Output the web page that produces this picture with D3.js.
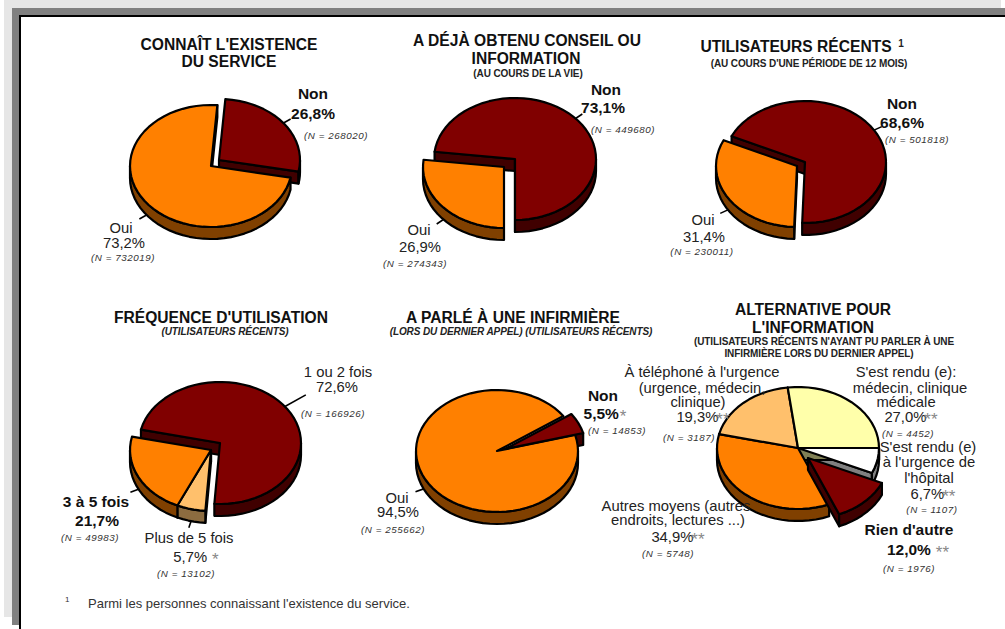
<!DOCTYPE html>
<html>
<head>
<meta charset="utf-8">
<script src="https://cdn.jsdelivr.net/npm/d3@7"></script>
<style>
  html, body { margin:0; padding:0; background:#fff; overflow:hidden; }
  svg { display:block; }
  text { font-family:"Liberation Sans", Arial, sans-serif; fill:#222; text-anchor:middle; }
  .title { font-size:15.6px; font-weight:bold; fill:#111; }
  .sub   { font-size:10px; font-weight:bold; fill:#222; letter-spacing:-.1px; }
  .lab   { font-size:14.8px; }
  .big   { font-size:15.5px; font-weight:bold; fill:#111; }
  .n     { font-size:9.8px; font-style:italic; letter-spacing:.55px; fill:#333; }
  .star  { fill:#888; font-weight:normal; font-size:17px; }
  .foot  { font-size:13px; fill:#333; text-anchor:start; }
</style>
</head>
<body>
<div id="graph"></div>
<script>
// Six fake-3D pies on a page with a drop shadow frame. Values are read off
// the picture, slice order is clockwise from each chart's start angle.

const W = 1005
const H = 629
const RX = 81    // pie radius, x
const RY = 61    // pie radius, y (squashed for the tilt)
const DEPTH = 12 // wall height

const ORANGE = '#ff8000', ORANGEW = '#804000'
const RED    = '#800000', REDW    = '#400000'
const PALE   = '#ffc06c', PALEW   = '#8c6c40'
const CREAM  = '#ffffaa', CREAMW  = '#808055'
const WHITE  = '#ffffff', WHITEW  = '#808080'

const titles1 = ["CONNAÎT L'EXISTENCE", 'DU SERVICE']
const names1  = [['Non'], ['Oui']]
const vals1   = [26.8, 73.2]
const ns1     = [268020, 732019]

const titles2 = ['A DÉJÀ OBTENU CONSEIL OU', 'INFORMATION']
const subs2   = ['(AU COURS DE LA VIE)']
const names2  = [['Oui'], ['Non']]
const vals2   = [26.9, 73.1]
const ns2     = [274343, 449680]

const titles3 = ['UTILISATEURS RÉCENTS']
const subs3   = ["(AU COURS D'UNE PÉRIODE DE 12 MOIS)"]
const names3  = [['Oui'], ['Non']]
const vals3   = [31.4, 68.6]
const ns3     = [230011, 501818]

const titles4 = ["FRÉQUENCE D'UTILISATION"]
const subs4   = ['(UTILISATEURS RÉCENTS)']
const names4  = [['Plus de 5 fois'], ['3 à 5 fois'], ['1 ou 2 fois']]
const vals4   = [5.7, 21.7, 72.6]
const ns4     = [13102, 49983, 166926]
const stars4  = ['*', '', '']

const titles5 = ['A PARLÉ À UNE INFIRMIÈRE']
const subs5   = ['(LORS DU DERNIER APPEL) (UTILISATEURS RÉCENTS)']
const names5  = [['Non'], ['Oui']]
const vals5   = [5.5, 94.5]
const ns5     = [14853, 255662]
const stars5  = ['*', '']

const titles6 = ['ALTERNATIVE POUR', "L'INFORMATION"]
const subs6   = ["(UTILISATEURS RÉCENTS N'AYANT PU PARLER À UNE", 'INFIRMIÈRE LORS DU DERNIER APPEL)']
const names6  = [["S'est rendu (e)", "à l'urgence de", "l'hôpital"],
                 ["Rien d'autre"],
                 ['Autres moyens (autres', 'endroits, lectures ...)'],
                 ["À téléphoné à l'urgence", '(urgence, médecin,', 'clinique)'],
                 ["S'est rendu (e):", 'médecin, clinique', 'médicale']]
const vals6   = [6.7, 12.0, 34.9, 19.3, 27.0]
const ns6     = [1107, 1976, 5748, 3187, 4452]
const stars6  = ['**', '**', '**', '**', '**']

const footNote = "Parmi les personnes connaissant l'existence du service."

const rad = d => d*Math.PI/180
const fmt = v => v.toFixed(1).replace('.', ',') + '%'

const svg = d3.select('#graph').append('svg').attr('width', W).attr('height', H)

// Page frame: light shadow, dark shadow, black rule, white sheet
const rect = (x, y, w, h, c) => svg.append('rect').attr('x', x).attr('y', y)
  .attr('width', w).attr('height', h).attr('fill', c)
rect(4, 0, 997, 617, '#e6e6e6')
rect(12, 8, 993, 617, '#808080')
rect(19, 15, 986, 614, '#000000')
rect(21, 17, 984, 612, '#ffffff')

const line = d3.line()
const inkd = sel => sel.attr('stroke', '#000').attr('stroke-width', 2.2)
  .attr('stroke-linejoin', 'round')

// Draw one pie. opts.slices holds per slice look, dx/dy = how far it is pulled out
function pie3d(vals, opts) {
  const arcs = d3.pie().sort(null)
    .startAngle(rad(opts.start)).endAngle(rad(opts.start + 360))(vals)
  const g = svg.append('g')

  const pt = (d, a, down=0) => {
    const s = opts.slices[d.index]
    return [opts.cx + s.dx + RX*Math.sin(a), opts.cy + s.dy - RY*Math.cos(a) + down]
  }
  const rim = (d, a0, a1, down=0) => {
    const n = Math.max(1, Math.ceil((a1 - a0)/rad(5)))
    return d3.range(n + 1).map(i => pt(d, a0 + (a1 - a0)*i/n, down))
  }
  const apex = (d, down=0) => {
    const s = opts.slices[d.index]
    return [opts.cx + s.dx, opts.cy + s.dy + down]
  }
  const drawTop = d => {
    const pts = [apex(d)].concat(rim(d, d.startAngle, d.endAngle))
    g.append('path').attr('d', line(pts) + 'Z').attr('fill', opts.slices[d.index].top).call(inkd)
  }

  // back pieces first: pulled-up ones behind, pulled-down ones in front
  const groups = d3.groups(arcs, d => opts.slices[d.index].dy).sort((a, b) => a[0] - b[0])
  const late = []
  for (const [, ds] of groups) {
    for (const d of ds) {
      const s = opts.slices[d.index]
      if (s.noFace) continue
      // the cut faces, only if they look downwards
      for (const [a, show] of [[d.startAngle, Math.sin(d.startAngle) < 0],
                               [d.endAngle,   Math.sin(d.endAngle)   > 0]]) {
        if (!show) continue
        const face = [apex(d), pt(d, a), pt(d, a, DEPTH), apex(d, DEPTH)]
        g.append('path').attr('d', line(face) + 'Z').attr('fill', s.wall).call(inkd)
      }
    }
    for (const d of ds) {
      const s = opts.slices[d.index]
      // outer wall is only on the front half of the ellipse
      for (let k = -1; k < 3; k++) {
        const a0 = Math.max(d.startAngle, rad(90 + 360*k))
        const a1 = Math.min(d.endAngle,   rad(270 + 360*k))
        if (a1 <= a0) continue
        const pts = rim(d, a0, a1).concat(rim(d, a0, a1, DEPTH).reverse())
        g.append('path').attr('d', line(pts) + 'Z').attr('fill', s.wall).call(inkd)
      }
    }
    for (const d of ds) {
      if (opts.slices[d.index].topLast) late.push(d)
      else drawTop(d)
    }
  }
  late.forEach(drawTop)

  // leader ticks from the middle of each slice
  arcs.forEach(d => {
    const s = opts.slices[d.index]
    if (!s.tick) return
    const mid = (d.startAngle + d.endAngle)/2
    const down = Math.cos(mid) < 0 ? DEPTH : 0
    const p0 = pt(d, mid, down)
    const p1 = [p0[0] + s.tick*Math.sin(mid), p0[1] - s.tick*Math.cos(mid)*0.75]
    g.append('path').attr('d', line([p0, p1])).attr('fill', 'none')
      .attr('stroke', '#000').attr('stroke-width', 1.6)
  })
}

function txt(x, y, str, cls) {
  return svg.append('text').attr('x', x).attr('y', y).attr('class', cls).text(str)
}

// One slice's label: name lines, percent, then (N = ...). at = one [x,y] per line
function label(name, val, n, at, bold, star='', starDx=3) {
  const cls = bold ? 'big' : 'lab'
  name.forEach((s, i) => txt(at[i][0], at[i][1], s, cls))
  const p = at[name.length]
  const t = txt(p[0], p[1], fmt(val), cls)
  if (star) t.append('tspan').attr('class', 'star').attr('dx', starDx).attr('dy', 3).text(star)
  const q = at[name.length + 1]
  txt(q[0], q[1], `(N = ${n})`, 'n')
}

// --- 1
pie3d(vals1, {cx:211, cy:166, start:4.5, slices:[
  {top:RED, wall:REDW, dx:8, dy:-6, tick:9},
  {top:ORANGE, wall:ORANGEW, dx:0, dy:0, tick:9}]})
txt(229, 50, titles1[0], 'title'); txt(229, 67, titles1[1], 'title')
label(names1[0], vals1[0], ns1[0], [[313,99],[313,119],[336,139]], true)
label(names1[1], vals1[1], ns1[1], [[121,233],[124,248],[123,261]], false)

// --- 2
pie3d(vals2, {cx:515, cy:159, start:180, slices:[
  {top:ORANGE, wall:ORANGEW, dx:-11, dy:8, tick:9},
  {top:RED, wall:REDW, dx:0, dy:0, tick:9}]})
txt(527, 46, titles2[0], 'title'); txt(526, 64, titles2[1], 'title'); txt(528, 77, subs2[0], 'sub')
label(names2[0], vals2[0], ns2[0], [[419,235],[420,252],[415,267]], false)
label(names2[1], vals2[1], ns2[1], [[606,95],[603,113],[623,133]], true)

// --- 3
pie3d(vals3, {cx:805, cy:162, start:182, slices:[
  {top:ORANGE, wall:ORANGEW, dx:-8, dy:4, tick:9},
  {top:RED, wall:REDW, dx:0, dy:0, tick:9}]})
txt(796, 52, titles3[0], 'title')
txt(901, 47, '1', 'sub')
txt(809, 67, subs3[0], 'sub')
label(names3[0], vals3[0], ns3[0], [[703,225],[704,242],[702,255]], false)
label(names3[1], vals3[1], ns3[1], [[902,109],[902,128],[917,143]], true)

// --- 4
pie3d(vals4, {cx:220, cy:443, start:184, slices:[
  {top:PALE, wall:PALEW, dx:-9, dy:7, tick:9},
  {top:ORANGE, wall:ORANGEW, dx:-9, dy:7, tick:9},
  {top:RED, wall:REDW, dx:0, dy:0, tick:26}]})
txt(221, 323, titles4[0], 'title')
txt(225, 335, subs4[0], 'sub').style('font-style', 'italic')
label(names4[0], vals4[0], ns4[0], [[189,543],[196,562],[186,577]], false, stars4[0], 5)
label(names4[1], vals4[1], ns4[1], [[96,507],[97,526],[90,541]], true)
label(names4[2], vals4[2], ns4[2], [[338,377],[337,392],[333,417]], false)

// --- 5: the wedge sits on top of the big slice, only its tip shows a wall
pie3d(vals5, {cx:497, cy:451, start:55, slices:[
  {top:RED, wall:REDW, dx:8, dy:-2, tick:0, topLast:true},
  {top:ORANGE, wall:ORANGEW, dx:0, dy:0, tick:9, noFace:true}]})
txt(513, 323, titles5[0], 'title')
txt(521, 335, subs5[0], 'sub').style('font-style', 'italic')
label(names5[0], vals5[0], ns5[0], [[603,401],[605,419],[617,434]], true, stars5[0], 1)
label(names5[1], vals5[1], ns5[1], [[397,503],[398,517],[393,533]], false)

// --- 6
pie3d(vals6, {cx:798, cy:448, start:90, slices:[
  {top:WHITE, wall:WHITEW, dx:0, dy:0, tick:0},
  {top:RED, wall:REDW, dx:10, dy:10, tick:0},
  {top:ORANGE, wall:ORANGEW, dx:0, dy:0, tick:0},
  {top:PALE, wall:PALEW, dx:0, dy:0, tick:0},
  {top:CREAM, wall:CREAMW, dx:0, dy:0, tick:0}]})
txt(813, 315, titles6[0], 'title'); txt(813, 333, titles6[1], 'title')
txt(824, 345, subs6[0], 'sub'); txt(819, 357, subs6[1], 'sub')
label(names6[0], vals6[0], ns6[0], [[928,452],[929,467],[929,483],[933,499],[932,513]], false, stars6[0], -2)
label(names6[1], vals6[1], ns6[1], [[909,535],[918,555],[909,572]], true, stars6[1], 5)
label(names6[2], vals6[2], ns6[2], [[676,511],[678,525],[678,542],[668,557]], false, stars6[2], -2)
label(names6[3], vals6[3], ns6[3], [[702,377],[702,393],[698,407],[703,422],[689,441]], false, stars6[3], -2)
label(names6[4], vals6[4], ns6[4], [[906,377],[910,393],[906,407],[911,422],[908,437]], false, stars6[4], -2)

// footnote
txt(65, 602, '1', 'foot').style('font-size', '8px')
txt(88, 608, footNote, 'foot')
</script>
</body>
</html>
